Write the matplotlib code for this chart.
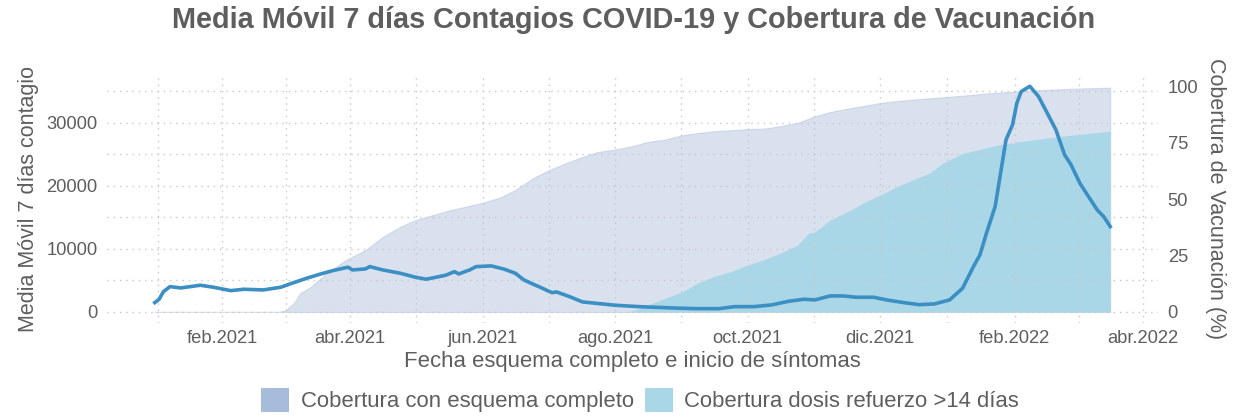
import matplotlib
matplotlib.use("Agg")
import matplotlib.pyplot as plt
import matplotlib.dates as mdates
from matplotlib.patches import Patch
import numpy as np
import pandas as pd

# ---------------- data ----------------
case_dates = [
    "2021-01-01", "2021-01-03", "2021-01-05", "2021-01-08", "2021-01-13", "2021-01-22",
    "2021-01-28", "2021-02-05", "2021-02-11", "2021-02-20", "2021-02-28", "2021-03-06",
    "2021-03-12", "2021-03-18", "2021-03-24", "2021-03-31", "2021-04-02", "2021-04-08",
    "2021-04-10", "2021-04-16", "2021-04-24", "2021-05-01", "2021-05-06", "2021-05-15",
    "2021-05-19", "2021-05-21", "2021-05-26", "2021-05-29", "2021-06-05", "2021-06-11",
    "2021-06-16", "2021-06-20", "2021-06-25", "2021-06-27", "2021-07-01", "2021-07-03",
    "2021-07-05", "2021-07-11", "2021-07-17", "2021-07-23", "2021-08-01", "2021-08-12",
    "2021-08-27", "2021-09-07", "2021-09-18", "2021-09-25", "2021-10-04", "2021-10-12",
    "2021-10-20", "2021-10-27", "2021-11-01", "2021-11-08", "2021-11-14", "2021-11-20",
    "2021-11-28", "2021-12-04", "2021-12-12", "2021-12-19", "2021-12-26", "2022-01-02",
    "2022-01-08", "2022-01-13", "2022-01-16", "2022-01-19", "2022-01-23", "2022-01-26",
    "2022-01-28", "2022-01-31", "2022-02-02", "2022-02-04", "2022-02-08", "2022-02-12",
    "2022-02-16", "2022-02-20", "2022-02-24", "2022-02-27", "2022-03-03", "2022-03-07",
    "2022-03-11", "2022-03-14", "2022-03-17",
]
cases_ma7 = [
    1476, 2016, 3222, 4016, 3810, 4238,
    3920, 3380, 3600, 3492, 3920, 4650,
    5350, 5984, 6560, 7095, 6667, 6825,
    7190, 6667, 6143, 5508, 5190, 5825,
    6397, 6032, 6667, 7190, 7302, 6778,
    6143, 5079, 4286, 4000, 3350, 3063,
    3175, 2429, 1587, 1381, 1063, 841,
    635, 524, 524, 841, 841, 1111,
    1698, 2016, 1905, 2540, 2540, 2333,
    2333, 1905, 1476, 1159, 1270, 1900,
    3762, 7190, 9048, 12500, 16714, 23063,
    27302, 29683, 33127, 34968, 35800, 34175,
    31540, 28889, 24920, 23333, 20429, 18302,
    16190, 15127, 13540,
]

completo_dates = [
    "2021-01-01", "2021-02-27", "2021-03-02", "2021-03-06", "2021-03-09", "2021-03-14",
    "2021-03-21", "2021-03-30", "2021-04-08", "2021-04-16", "2021-04-24", "2021-05-01",
    "2021-05-09", "2021-05-17", "2021-05-24", "2021-06-01", "2021-06-09", "2021-06-16",
    "2021-06-24", "2021-07-01", "2021-07-09", "2021-07-17", "2021-07-24", "2021-08-01",
    "2021-08-09", "2021-08-16", "2021-08-24", "2021-09-01", "2021-09-08", "2021-09-16",
    "2021-09-23", "2021-10-01", "2021-10-09", "2021-10-16", "2021-10-24", "2021-11-01",
    "2021-11-08", "2021-11-16", "2021-11-23", "2021-12-01", "2021-12-09", "2021-12-16",
    "2021-12-24", "2022-01-01", "2022-01-10", "2022-01-19", "2022-02-06", "2022-02-24",
    "2022-03-17",
]
completo_pct = [
    0, 0, 0.6, 3.8, 8.3, 11.2,
    17.1, 23.0, 27.4, 33.3, 37.7, 40.7,
    42.9, 45.1, 46.6, 48.4, 50.7, 54.0,
    59.2, 62.6, 65.8, 68.7, 70.9, 72.0,
    73.5, 75.4, 76.4, 78.3, 79.3, 80.1,
    80.5, 81.0, 81.3, 82.3, 83.8, 86.7,
    88.6, 90.1, 91.2, 92.6, 93.5, 94.1,
    94.7, 95.3, 96.0, 96.8, 98.0, 98.8,
    99.4,
]

refuerzo_dates = [
    "2021-01-01", "2021-08-05", "2021-08-10", "2021-08-16", "2021-08-24", "2021-09-01",
    "2021-09-08", "2021-09-16", "2021-09-23", "2021-10-01", "2021-10-09", "2021-10-16",
    "2021-10-24", "2021-10-29", "2021-11-01", "2021-11-08", "2021-11-16", "2021-11-23",
    "2021-12-01", "2021-12-09", "2021-12-16", "2021-12-24", "2021-12-30", "2022-01-08",
    "2022-01-24", "2022-02-08", "2022-02-23", "2022-03-17",
]
refuerzo_pct = [
    0, 0, 0.6, 3.1, 6.1, 9.0,
    12.7, 15.9, 17.8, 20.8, 23.3, 26.0,
    29.6, 34.8, 35.5, 40.7, 44.4, 48.1,
    51.8, 55.6, 58.5, 61.6, 66.0, 70.2,
    73.9, 76.1, 77.9, 80.1,
]

x_tick_dates = ["2021-02-01", "2021-04-01", "2021-06-01", "2021-08-01", "2021-10-01",
                "2021-12-01", "2022-02-01", "2022-04-01"]
x_tick_labels = ["feb.2021", "abr.2021", "jun.2021", "ago.2021", "oct.2021",
                 "dic.2021", "feb.2022", "abr.2022"]
y_ticks = [0, 10000, 20000, 30000]
y2_ticks = [0, 25, 50, 75, 100]

title = "Media Móvil 7 días Contagios COVID-19 y Cobertura de Vacunación"
xlabel = "Fecha esquema completo e inicio de síntomas"
ylabel = "Media Móvil 7 días contagio"
y2label = "Cobertura de Vacunación (%)"
legend_labels = ["Cobertura con esquema completo", "Cobertura dosis refuerzo >14 días"]

# ---------------- style ----------------
plt.rcParams['font.family'] = ['Liberation Sans', 'DejaVu Sans']
TXT = "#5e5e5e"
C_COMP = "#a7bbdb"
C_REF = "#a9d7e7"
C_LINE = "#3c8fc3"
GRID = "#c8c8c8"
LAB = 15.5

cd = pd.to_datetime(case_dates)
comp_d = pd.to_datetime(completo_dates)
ref_d = pd.to_datetime(refuerzo_dates)
cases = np.array(cases_ma7, dtype=float)
scale = cases.max() / 100.0  # 100 % coverage == max of the moving average

fig = plt.figure(figsize=(12.35, 4.19), dpi=100)
ax = fig.add_axes([107 / 1235, 1 - 323 / 419, (1158 - 107) / 1235, (323 - 75) / 419])

ax.fill_between(comp_d, 0, np.array(completo_pct) * scale, color=C_COMP, alpha=0.43,
                linewidth=0.8, edgecolor=C_COMP)
ax.fill_between(ref_d, 0, np.array(refuerzo_pct) * scale, color=C_REF, linewidth=0)
ax.plot(cd, cases, color=C_LINE, linewidth=2.6, solid_joinstyle='round', zorder=3)

# limits (ggplot-like 5% expansion)
x0, x1 = mdates.date2num(cd.min()), mdates.date2num(cd.max())
span = x1 - x0
ax.set_xlim(x0 - 0.05 * span, x1 + 0.05 * span)
ymax = cases.max()
ax.set_ylim(-0.05 * ymax * 0.98, ymax * 1.05)

maj = pd.to_datetime(x_tick_dates)
ax.set_xticks(maj)
ax.set_xticklabels(x_tick_labels)
majn = mdates.date2num(maj)
minors = list((majn[:-1] + majn[1:]) / 2)
minors = [majn[0] - (majn[1] - majn[0]) / 2] + minors
ax.set_xticks(minors, minor=True)
ax.set_yticks(y_ticks)
ax.set_yticks([5000, 15000, 25000, 35000], minor=True)

ax.set_axisbelow('line')
ax.grid(True, which='both', color=GRID, linestyle=(0, (1, 3.5)), linewidth=1.0)
for s in ax.spines.values():
    s.set_visible(False)
ax.tick_params(which='both', length=0, labelsize=13.2, labelcolor=TXT)
ax.tick_params(axis='y', pad=7)
ax.tick_params(axis='x', pad=5)

sec = ax.secondary_yaxis('right', functions=(lambda y: y / scale, lambda p: p * scale))
sec.set_yticks(y2_ticks)
sec.tick_params(length=0, labelsize=13.2, labelcolor=TXT, pad=7)
for s in sec.spines.values():
    s.set_visible(False)
sec.set_ylabel(y2label, rotation=270, fontsize=LAB, color=TXT, labelpad=5, va='bottom')

ax.set_xlabel(xlabel, fontsize=15.9, color=TXT, labelpad=3)
ax.set_ylabel(ylabel, fontsize=LAB, color=TXT, labelpad=5)

fig.text(634 / 1235, 1 - 20 / 419, title, ha='center', va='center', fontsize=20.8,
         fontweight='bold', color=TXT)

handles = [Patch(facecolor=C_COMP, edgecolor='none'), Patch(facecolor=C_REF, edgecolor='none')]
fig.legend(handles, legend_labels, loc='center', bbox_to_anchor=(640 / 1235, 1 - 400 / 419),
           ncol=2, frameon=False, fontsize=15.9, labelcolor=TXT, handlelength=1.3,
           handleheight=1.3, handletextpad=0.5, columnspacing=0.5, borderaxespad=0)

fig.savefig("out.png", dpi=100)
